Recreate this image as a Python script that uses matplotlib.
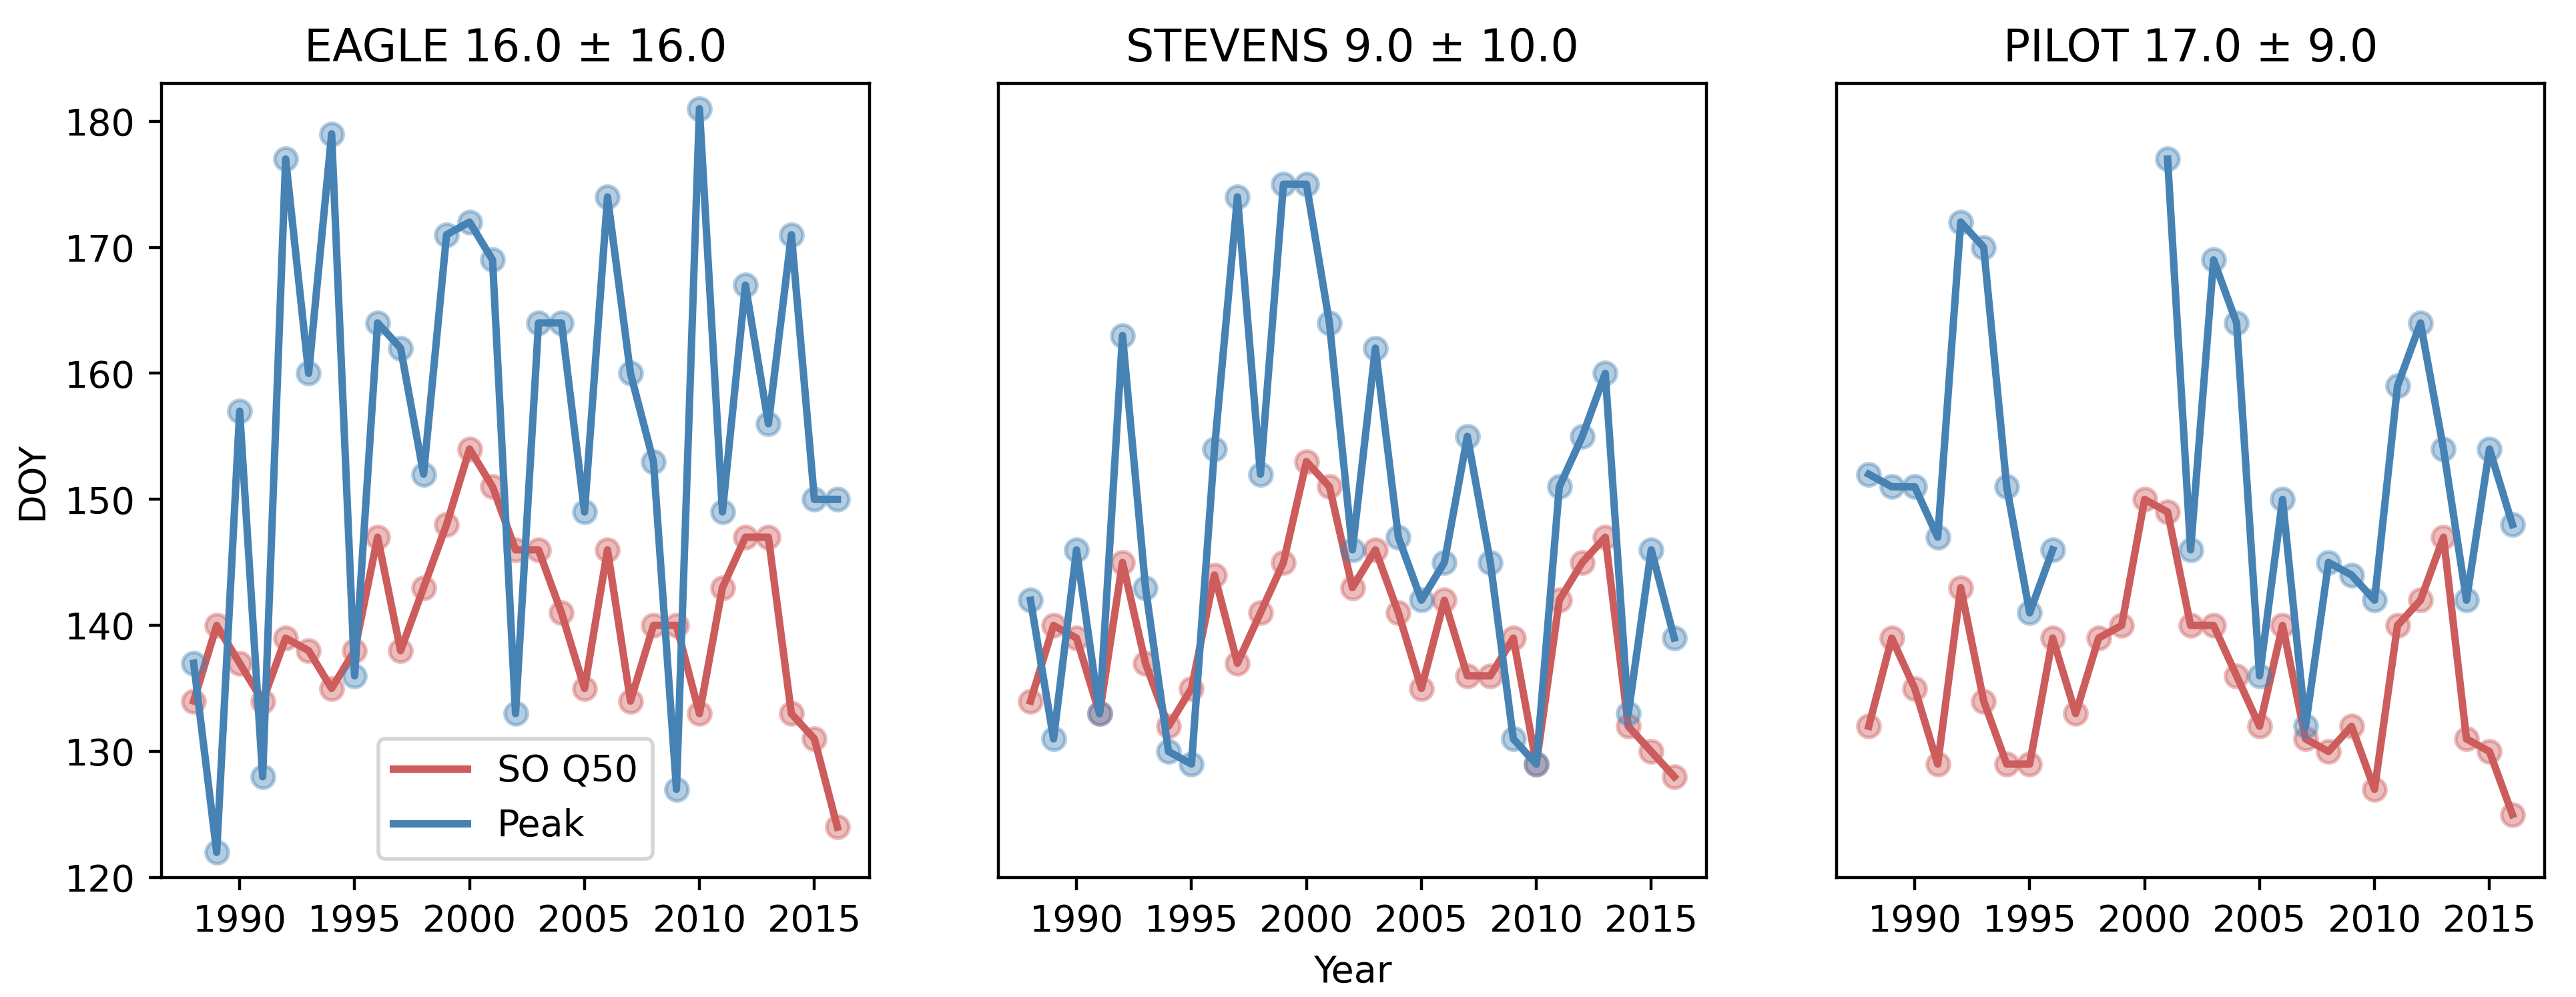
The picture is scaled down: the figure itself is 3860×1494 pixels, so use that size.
import numpy as np
import matplotlib
matplotlib.use("Agg")
import matplotlib.pyplot as plt

years = list(range(1988, 2017))

sites = ["EAGLE", "STEVENS", "PILOT"]
titles = ["EAGLE 16.0 ± 16.0", "STEVENS 9.0 ± 10.0", "PILOT 17.0 ± 9.0"]

eagle_so = [134, 140, 137, 134, 139, 138, 135, 138, 147, 138, 143, 148, 154, 151, 146,
            146, 141, 135, 146, 134, 140, 140, 133, 143, 147, 147, 133, 131, 124]
eagle_peak = [137, 122, 157, 128, 177, 160, 179, 136, 164, 162, 152, 171, 172, 169, 133,
              164, 164, 149, 174, 160, 153, 127, 181, 149, 167, 156, 171, 150, 150]

stevens_so = [134, 140, 139, 133, 145, 137, 132, 135, 144, 137, 141, 145, 153, 151, 143,
              146, 141, 135, 142, 136, 136, 139, 129, 142, 145, 147, 132, 130, 128]
stevens_peak = [142, 131, 146, 133, 163, 143, 130, 129, 154, 174, 152, 175, 175, 164, 146,
                162, 147, 142, 145, 155, 145, 131, 129, 151, 155, 160, 133, 146, 139]

pilot_so = [132, 139, 135, 129, 143, 134, 129, 129, 139, 133, 139, 140, 150, 149, 140,
            140, 136, 132, 140, 131, 130, 132, 127, 140, 142, 147, 131, 130, 125]
pilot_peak = [152, 151, 151, 147, 172, 170, 151, 141, 146, np.nan, np.nan, np.nan, np.nan, 177, 146,
              169, 164, 136, 150, 132, 145, 144, 142, 159, 164, 154, 142, 154, 148]

so_series = [eagle_so, stevens_so, pilot_so]
peak_series = [eagle_peak, stevens_peak, pilot_peak]

red = "indianred"
blue = "steelblue"

fig = plt.figure(figsize=(3860 / 400, 1494 / 400), dpi=400)
lefts = [242 / 3860, 1496 / 3860, 2752 / 3860]
width = 1061 / 3860
bottom = 1 - 1315 / 1494
height = (1315 - 125) / 1494

axes = []
for i in range(3):
    ax = fig.add_axes([lefts[i], bottom, width, height])
    axes.append(ax)
    so = np.array(so_series[i], dtype=float)
    pk = np.array(peak_series[i], dtype=float)
    ax.plot(years, so, color=red, lw=2, label="SO Q50")
    ax.plot(years, so, "o", color=red, alpha=0.4, markersize=6, markeredgewidth=1.0)
    ax.plot(years, pk, color=blue, lw=2, label="Peak")
    ax.plot(years, pk, "o", color=blue, alpha=0.4, markersize=6, markeredgewidth=1.0)
    ax.set_title(titles[i])
    ax.set_ylim(120, 183)
    ax.set_xticks([1990, 1995, 2000, 2005, 2010, 2015])
    if i == 0:
        ax.set_ylabel("DOY")
        handles, labels = ax.get_legend_handles_labels()
        ax.legend(handles[:2], labels[:2], loc="lower center")
    else:
        ax.set_yticks([])
    if i == 1:
        ax.set_xlabel("Year")

fig.savefig("out.png", dpi=400)
